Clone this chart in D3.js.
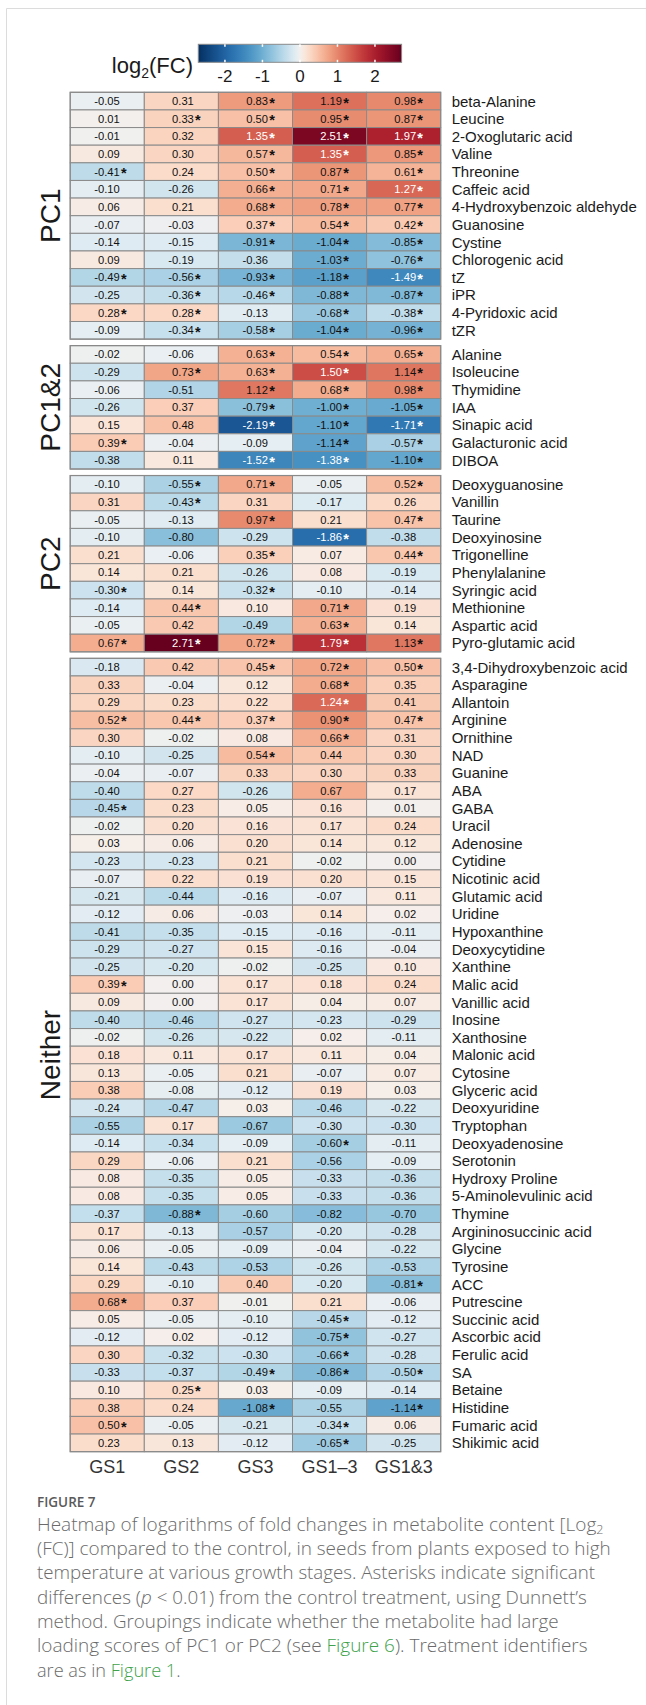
<!DOCTYPE html>
<html>
<head>
<meta charset="utf-8">
<script src="https://cdn.jsdelivr.net/npm/d3@7"></script>
<style>
  body { margin: 0; background: #fff; }
  svg { display: block; }
</style>
</head>
<body>
<svg id="chart" width="646" height="1705"></svg>
<script>
// Treatments (columns)
const treatments = ["GS1", "GS2", "GS3", "GS1–3", "GS1&3"];

// Log2(FC) per metabolite, columns in treatment order; significance flags (1 = p < 0.01)
const pc1Names = ["beta-Alanine", "Leucine", "2-Oxoglutaric acid", "Valine", "Threonine", "Caffeic acid",
  "4-Hydroxybenzoic aldehyde", "Guanosine", "Cystine", "Chlorogenic acid", "tZ", "iPR", "4-Pyridoxic acid", "tZR"];
const pc1Values = [
  [-0.05, 0.31, 0.83, 1.19, 0.98],
  [0.01, 0.33, 0.50, 0.95, 0.87],
  [-0.01, 0.32, 1.35, 2.51, 1.97],
  [0.09, 0.30, 0.57, 1.35, 0.85],
  [-0.41, 0.24, 0.50, 0.87, 0.61],
  [-0.10, -0.26, 0.66, 0.71, 1.27],
  [0.06, 0.21, 0.68, 0.78, 0.77],
  [-0.07, -0.03, 0.37, 0.54, 0.42],
  [-0.14, -0.15, -0.91, -1.04, -0.85],
  [0.09, -0.19, -0.36, -1.03, -0.76],
  [-0.49, -0.56, -0.93, -1.18, -1.49],
  [-0.25, -0.36, -0.46, -0.88, -0.87],
  [0.28, 0.28, -0.13, -0.68, -0.38],
  [-0.09, -0.34, -0.58, -1.04, -0.96]
];
const pc1Signif = [
  [0,0,1,1,1],[0,1,1,1,1],[0,0,1,1,1],[0,0,1,1,1],[1,0,1,1,1],[0,0,1,1,1],[0,0,1,1,1],
  [0,0,1,1,1],[0,0,1,1,1],[0,0,0,1,1],[1,1,1,1,1],[0,1,1,1,1],[1,1,0,1,1],[0,1,1,1,1]
];

const pc12Names = ["Alanine", "Isoleucine", "Thymidine", "IAA", "Sinapic acid", "Galacturonic acid", "DIBOA"];
const pc12Values = [
  [-0.02, -0.06, 0.63, 0.54, 0.65],
  [-0.29, 0.73, 0.63, 1.50, 1.14],
  [-0.06, -0.51, 1.12, 0.68, 0.98],
  [-0.26, 0.37, -0.79, -1.00, -1.05],
  [0.15, 0.48, -2.19, -1.10, -1.71],
  [0.39, -0.04, -0.09, -1.14, -0.57],
  [-0.38, 0.11, -1.52, -1.38, -1.10]
];
const pc12Signif = [
  [0,0,1,1,1],[0,1,1,1,1],[0,0,1,1,1],[0,0,1,1,1],[0,0,1,1,1],[1,0,0,1,1],[0,0,1,1,1]
];

const pc2Names = ["Deoxyguanosine", "Vanillin", "Taurine", "Deoxyinosine", "Trigonelline", "Phenylalanine",
  "Syringic acid", "Methionine", "Aspartic acid", "Pyro-glutamic acid"];
const pc2Values = [
  [-0.10, -0.55, 0.71, -0.05, 0.52],
  [0.31, -0.43, 0.31, -0.17, 0.26],
  [-0.05, -0.13, 0.97, 0.21, 0.47],
  [-0.10, -0.80, -0.29, -1.86, -0.38],
  [0.21, -0.06, 0.35, 0.07, 0.44],
  [0.14, 0.21, -0.26, 0.08, -0.19],
  [-0.30, 0.14, -0.32, -0.10, -0.14],
  [-0.14, 0.44, 0.10, 0.71, 0.19],
  [-0.05, 0.42, -0.49, 0.63, 0.14],
  [0.67, 2.71, 0.72, 1.79, 1.13]
];
const pc2Signif = [
  [0,1,1,0,1],[0,1,0,0,0],[0,0,1,0,1],[0,0,0,1,0],[0,0,1,0,1],
  [0,0,0,0,0],[1,0,1,0,0],[0,1,0,1,0],[0,0,0,1,0],[1,1,1,1,1]
];

const neitherNames = ["3,4-Dihydroxybenzoic acid", "Asparagine", "Allantoin", "Arginine", "Ornithine", "NAD",
  "Guanine", "ABA", "GABA", "Uracil", "Adenosine", "Cytidine", "Nicotinic acid", "Glutamic acid", "Uridine",
  "Hypoxanthine", "Deoxycytidine", "Xanthine", "Malic acid", "Vanillic acid", "Inosine", "Xanthosine",
  "Malonic acid", "Cytosine", "Glyceric acid", "Deoxyuridine", "Tryptophan", "Deoxyadenosine", "Serotonin",
  "Hydroxy Proline", "5-Aminolevulinic acid", "Thymine", "Argininosuccinic acid", "Glycine", "Tyrosine", "ACC",
  "Putrescine", "Succinic acid", "Ascorbic acid", "Ferulic acid", "SA", "Betaine", "Histidine", "Fumaric acid",
  "Shikimic acid"];
const neitherValues = [
  [-0.18, 0.42, 0.45, 0.72, 0.50],
  [0.33, -0.04, 0.12, 0.68, 0.35],
  [0.29, 0.23, 0.22, 1.24, 0.41],
  [0.52, 0.44, 0.37, 0.90, 0.47],
  [0.30, -0.02, 0.08, 0.66, 0.31],
  [-0.10, -0.25, 0.54, 0.44, 0.30],
  [-0.04, -0.07, 0.33, 0.30, 0.33],
  [-0.40, 0.27, -0.26, 0.67, 0.17],
  [-0.45, 0.23, 0.05, 0.16, 0.01],
  [-0.02, 0.20, 0.16, 0.17, 0.24],
  [0.03, 0.06, 0.20, 0.14, 0.12],
  [-0.23, -0.23, 0.21, -0.02, 0.00],
  [-0.07, 0.22, 0.19, 0.20, 0.15],
  [-0.21, -0.44, -0.16, -0.07, 0.11],
  [-0.12, 0.06, -0.03, 0.14, 0.02],
  [-0.41, -0.35, -0.15, -0.16, -0.11],
  [-0.29, -0.27, 0.15, -0.16, -0.04],
  [-0.25, -0.20, -0.02, -0.25, 0.10],
  [0.39, 0.00, 0.17, 0.18, 0.24],
  [0.09, 0.00, 0.17, 0.04, 0.07],
  [-0.40, -0.46, -0.27, -0.23, -0.29],
  [-0.02, -0.26, -0.22, 0.02, -0.11],
  [0.18, 0.11, 0.17, 0.11, 0.04],
  [0.13, -0.05, 0.21, -0.07, 0.07],
  [0.38, -0.08, -0.12, 0.19, 0.03],
  [-0.24, -0.47, 0.03, -0.46, -0.22],
  [-0.55, 0.17, -0.67, -0.30, -0.30],
  [-0.14, -0.34, -0.09, -0.60, -0.11],
  [0.29, -0.06, 0.21, -0.56, -0.09],
  [0.08, -0.35, 0.05, -0.33, -0.36],
  [0.08, -0.35, 0.05, -0.33, -0.36],
  [-0.37, -0.88, -0.60, -0.82, -0.70],
  [0.17, -0.13, -0.57, -0.20, -0.28],
  [0.06, -0.05, -0.09, -0.04, -0.22],
  [0.14, -0.43, -0.53, -0.26, -0.53],
  [0.29, -0.10, 0.40, -0.20, -0.81],
  [0.68, 0.37, -0.01, 0.21, -0.06],
  [0.05, -0.05, -0.10, -0.45, -0.12],
  [-0.12, 0.02, -0.12, -0.75, -0.27],
  [0.30, -0.32, -0.30, -0.66, -0.28],
  [-0.33, -0.37, -0.49, -0.86, -0.50],
  [0.10, 0.25, 0.03, -0.09, -0.14],
  [0.38, 0.24, -1.08, -0.55, -1.14],
  [0.50, -0.05, -0.21, -0.34, 0.06],
  [0.23, 0.13, -0.12, -0.65, -0.25]
];
const neitherSignif = [
  [0,0,1,1,1],[0,0,0,1,0],[0,0,0,1,0],[1,1,1,1,1],[0,0,0,1,0],[0,0,1,0,0],[0,0,0,0,0],
  [0,0,0,0,0],[1,0,0,0,0],[0,0,0,0,0],[0,0,0,0,0],[0,0,0,0,0],[0,0,0,0,0],[0,0,0,0,0],
  [0,0,0,0,0],[0,0,0,0,0],[0,0,0,0,0],[0,0,0,0,0],[1,0,0,0,0],[0,0,0,0,0],[0,0,0,0,0],
  [0,0,0,0,0],[0,0,0,0,0],[0,0,0,0,0],[0,0,0,0,0],[0,0,0,0,0],[0,0,0,0,0],[0,0,0,1,0],
  [0,0,0,0,0],[0,0,0,0,0],[0,0,0,0,0],[0,1,0,0,0],[0,0,0,0,0],[0,0,0,0,0],[0,0,0,0,0],
  [0,0,0,0,1],[1,0,0,0,0],[0,0,0,1,0],[0,0,0,1,0],[0,0,0,1,0],[0,0,1,1,1],[0,1,0,0,0],
  [0,0,1,0,1],[1,0,0,1,0],[0,0,0,1,0]
];

const legendTicks = [-2, -1, 0, 1, 2];
const colorLimit = 2.71;

const groups = [
  { label: "PC1", names: pc1Names, values: pc1Values, signif: pc1Signif },
  { label: "PC1&2", names: pc12Names, values: pc12Values, signif: pc12Signif },
  { label: "PC2", names: pc2Names, values: pc2Values, signif: pc2Signif },
  { label: "Neither", names: neitherNames, values: neitherValues, signif: neitherSignif }
];

// ---- layout ----
const FONT = "'Liberation Sans', Arial, Helvetica, sans-serif";
const heatLeft = 70.2, heatRight = 440.7;
const firstTop = 92.3, rowH = 17.63, groupGap = 6.5;

const svg = d3.select("#chart");

// light frame around the figure panel
svg.append("path")
  .attr("d", "M6.5,1705 V8.5 H646")
  .attr("fill", "none").attr("stroke", "#dcdcdc").attr("stroke-width", 1);

const x = d3.scaleBand().domain(treatments).range([heatLeft, heatRight]).padding(0);

// diverging RdBu ramp, symmetric about 0, with a mild power curve so mid values saturate sooner
const ramp = d3.scaleDiverging(t => d3.interpolateRdBu(1 - t)).domain([-1, 0, 1]);
const color = v => {
  const u = Math.max(-1, Math.min(1, v / colorLimit));
  return ramp(Math.sign(u) * Math.pow(Math.abs(u), 0.72));
};

// stack groups vertically
let yCursor = firstTop;
groups.forEach(g => {
  g.y = d3.scaleBand().domain(g.names).range([yCursor, yCursor + g.names.length * rowH]).padding(0);
  yCursor += g.names.length * rowH + groupGap;
});

const fmt = v => d3.format(".2f")(v).replace("\u2212", "-");

groups.forEach(g => {
  const gg = svg.append("g");
  const cells = [];
  g.names.forEach((name, i) => {
    treatments.forEach((t, j) => {
      cells.push({ name, t, v: g.values[i][j], s: g.signif[i][j] });
    });
  });

  gg.selectAll("rect.cell").data(cells).join("rect")
    .attr("class", "cell")
    .attr("x", d => x(d.t))
    .attr("y", d => g.y(d.name))
    .attr("width", x.bandwidth())
    .attr("height", g.y.bandwidth())
    .attr("fill", d => color(d.v))
    .attr("stroke", "#8a8a8a")
    .attr("stroke-width", 1);

  // group outline
  gg.append("rect")
    .attr("x", heatLeft).attr("y", g.y.range()[0])
    .attr("width", heatRight - heatLeft).attr("height", g.y.range()[1] - g.y.range()[0])
    .attr("fill", "none").attr("stroke", "#8a8a8a").attr("stroke-width", 1.2);

  const numX = d => x(d.t) + x.bandwidth() / 2 + 12.5;
  const midY = d => g.y(d.name) + g.y.bandwidth() / 2;
  const txtColor = d => Math.abs(d.v) > 1.2 ? "#ffffff" : "#111111";

  gg.selectAll("text.val").data(cells).join("text")
    .attr("class", "val")
    .attr("x", numX)
    .attr("y", d => midY(d) + 4)
    .attr("text-anchor", "end")
    .attr("font-family", FONT)
    .attr("font-size", 11.2)
    .attr("fill", txtColor)
    .text(d => fmt(d.v));

  gg.selectAll("text.sig").data(cells.filter(d => d.s)).join("text")
    .attr("class", "sig")
    .attr("x", d => numX(d) + 1.2)
    .attr("y", d => midY(d) + 6.4)
    .attr("font-family", FONT)
    .attr("font-size", 14.5)
    .attr("font-weight", "bold")
    .attr("fill", txtColor)
    .text("*");

  // metabolite names
  gg.selectAll("text.name").data(g.names).join("text")
    .attr("class", "name")
    .attr("x", heatRight + 11)
    .attr("y", d => g.y(d) + g.y.bandwidth() / 2 + 5.4)
    .attr("font-family", FONT)
    .attr("font-size", 15)
    .attr("fill", "#1a1a1a")
    .text(d => d);

  // group label
  const cy = (g.y.range()[0] + g.y.range()[1]) / 2;
  gg.append("text")
    .attr("transform", `translate(59.5,${cy}) rotate(-90)`)
    .attr("text-anchor", "middle")
    .attr("font-family", FONT)
    .attr("font-size", 28)
    .attr("fill", "#1a1a1a")
    .text(g.label);
});

// column labels
svg.append("g").selectAll("text").data(treatments).join("text")
  .attr("x", d => x(d) + x.bandwidth() / 2)
  .attr("y", 1473.3)
  .attr("text-anchor", "middle")
  .attr("font-family", FONT)
  .attr("font-size", 18)
  .attr("fill", "#333")
  .text(d => d);

// ---- colour legend ----
const lx = d3.scaleLinear().domain([-colorLimit, colorLimit]).range([198.3, 401.6]);
const defs = svg.append("defs");
const grad = defs.append("linearGradient").attr("id", "fcGrad").attr("x1", "0%").attr("x2", "100%");
d3.range(0, 1.0001, 0.02).forEach(t => {
  grad.append("stop").attr("offset", (t * 100) + "%")
    .attr("stop-color", color(-colorLimit + t * 2 * colorLimit));
});
const legY = 44.3, legH = 18;
svg.append("rect")
  .attr("x", lx.range()[0]).attr("y", legY)
  .attr("width", lx.range()[1] - lx.range()[0]).attr("height", legH)
  .attr("fill", "url(#fcGrad)").attr("stroke", "#8a8a8a").attr("stroke-width", 1);

const legAxis = svg.append("g");
legAxis.selectAll("line.t1").data(legendTicks).join("line")
  .attr("x1", d => lx(d)).attr("x2", d => lx(d))
  .attr("y1", legY).attr("y2", legY + 2.5)
  .attr("stroke", "#fff").attr("stroke-width", 1.5);
legAxis.selectAll("line.t2").data(legendTicks).join("line")
  .attr("x1", d => lx(d)).attr("x2", d => lx(d))
  .attr("y1", legY + legH - 2.5).attr("y2", legY + legH)
  .attr("stroke", "#fff").attr("stroke-width", 1.5);
legAxis.selectAll("text").data(legendTicks).join("text")
  .attr("x", d => lx(d))
  .attr("y", 81.7)
  .attr("text-anchor", "middle")
  .attr("font-family", FONT)
  .attr("font-size", 17)
  .attr("fill", "#1a1a1a")
  .text(d => String(d));

const legTitle = svg.append("text")
  .attr("x", 193).attr("y", 72.7)
  .attr("text-anchor", "end")
  .attr("font-family", FONT)
  .attr("font-size", 22)
  .attr("fill", "#1a1a1a");
legTitle.append("tspan").text("log");
legTitle.append("tspan").attr("font-size", 14).attr("dy", 5).text("2");
legTitle.append("tspan").attr("dy", -5).text("(FC)");

// ---- caption ----
const CAP_FONT = "'Open Sans', 'Noto Sans', sans-serif";
const green = "#3da24a";
svg.append("text")
  .attr("x", 37).attr("y", 1507.3)
  .attr("font-family", CAP_FONT).attr("font-size", 13.5).attr("font-weight", 600)
  .attr("fill", "#5a5a5a")
  .text("FIGURE 7");

const captionLines = [
  [{ t: "Heatmap of logarithms of fold changes in metabolite content [Log" }, { t: "2", sub: true }],
  [{ t: "(FC)] compared to the control, in seeds from plants exposed to high" }],
  [{ t: "temperature at various growth stages. Asterisks indicate significant" }],
  [{ t: "differences (" }, { t: "p", it: true }, { t: " < 0.01) from the control treatment, using Dunnett’s" }],
  [{ t: "method. Groupings indicate whether the metabolite had large" }],
  [{ t: "loading scores of PC1 or PC2 (see " }, { t: "Figure 6", link: true }, { t: "). Treatment identifiers" }],
  [{ t: "are as in " }, { t: "Figure 1", link: true }, { t: "." }]
];
const lineWidths = [566.7, 574, 558.5, 550, 522, 551, 143.7];
const capBase = 1530.7, capStep = 24.33;
captionLines.forEach((segs, i) => {
  const tx = svg.append("text")
    .attr("x", 37).attr("y", capBase + i * capStep)
    .attr("font-family", CAP_FONT).attr("font-size", 16).attr("font-weight", 300)
    .attr("fill", "#6a6a6a");
  segs.forEach(s => {
    const sp = tx.append("tspan").text(s.t);
    if (s.sub) sp.attr("font-size", 10.5).attr("dy", 3);
    if (s.it) sp.attr("font-style", "italic");
    if (s.link) sp.attr("fill", green);
  });
  // fit each line to its set width
  const w = tx.node().getComputedTextLength();
  if (w > 0) {
    tx.attr("font-size", 16 * lineWidths[i] / w);
    tx.selectAll("tspan").filter(function () { return d3.select(this).attr("font-size"); })
      .attr("font-size", 10.5 * lineWidths[i] / w);
  }
});
</script>
</body>
</html>
